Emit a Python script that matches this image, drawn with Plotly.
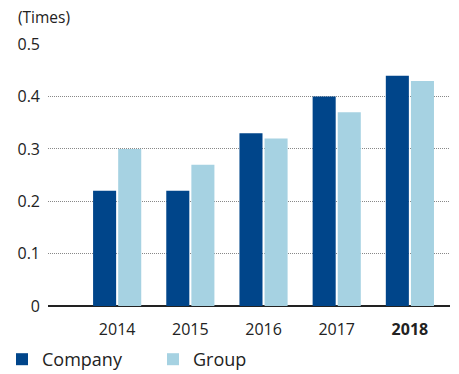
import plotly.graph_objects as go

years = ["2014", "2015", "2016", "2017", "2018"]
year_labels = ["2014", "2015", "2016", "2017", "<b>2018</b>"]
company = [0.22, 0.22, 0.33, 0.40, 0.44]
group = [0.30, 0.27, 0.32, 0.37, 0.43]
y_ticks = [0, 0.1, 0.2, 0.3, 0.4, 0.5]
y_tick_text = ["0", "0.1", "0.2", "0.3", "0.4", "0.5"]

FONT = "Open Sans"
W, H = 459, 374
L, R, T, B = 48, 9, 44, 68
PW, PH = W - L - R, H - T - B

fig = go.Figure()
fig.add_trace(go.Bar(x=years, y=company, name="Company", marker_color="#00458A",
                     width=0.315, offset=-0.329, marker_line_width=0))
fig.add_trace(go.Bar(x=years, y=group, name="Group", marker_color="#A6D2E2",
                     width=0.315, offset=0.014, marker_line_width=0))

fig.update_layout(
    width=W, height=H,
    margin=dict(l=L, r=R, t=T, b=B, pad=0, autoexpand=False),
    paper_bgcolor="white", plot_bgcolor="white",
    font=dict(family=FONT, color="#222222"),
    barmode="overlay",
    showlegend=True,
    legend=dict(orientation="h", x=-(L - 2) / PW, xanchor="left",
                y=-(H + 4 - (H - B)) / PH, yanchor="bottom",
                font=dict(size=18, family=FONT, color="#222222"),
                entrywidth=106, entrywidthmode="pixels",
                itemwidth=30, bgcolor="rgba(0,0,0,0)", traceorder="normal"),
    xaxis=dict(type="category", range=[-0.945, 4.548], tickmode="array",
               tickvals=years, ticktext=year_labels, showgrid=False,
               showline=False, zeroline=False, ticks="", ticklabelstandoff=12,
               automargin=False,
               tickfont=dict(size=16, family=FONT, color="#222222")),
    yaxis=dict(range=[0, 0.5005], tickmode="array", tickvals=y_ticks,
               ticktext=y_tick_text, showgrid=True, gridcolor="#888888",
               griddash="1px,1px", gridwidth=1, zeroline=True, zerolinecolor="#222222",
               zerolinewidth=1.5, showline=False, ticks="", ticklabelstandoff=7,
               automargin=False,
               tickfont=dict(size=16, family=FONT, color="#222222")),
    annotations=[dict(text="(Times)", xref="paper", yref="paper",
                      x=-(L - 16) / PW, xanchor="left",
                      y=1 + (T - 17) / PH, yanchor="middle",
                      showarrow=False, font=dict(size=15.5, family=FONT, color="#222222"))],
)

fig.write_html("out.html")
